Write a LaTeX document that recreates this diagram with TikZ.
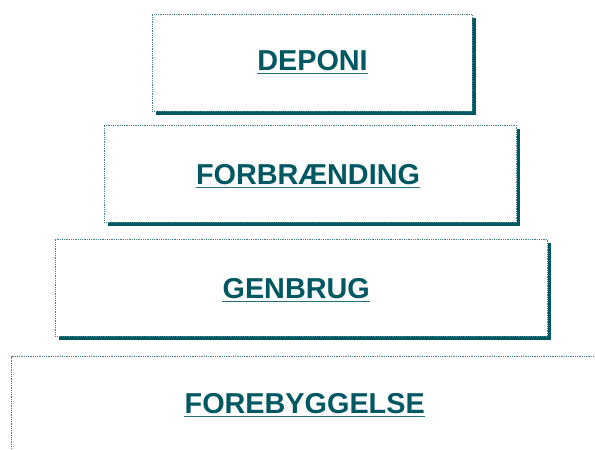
\documentclass[tikz,border=0pt]{standalone}
\usepackage{fontspec}
\newfontfamily\trinfont{Liberation Sans}
\usetikzlibrary{shadows}
\definecolor{petroldark}{RGB}{0,88,99}
\colorlet{petroldark-lighter}{petroldark!75}

\begin{document}
\begin{tikzpicture}[x=1pt, y=-1pt,
    trin/.style={draw=petroldark-lighter, densely dotted, line width=0.8pt, fill=white, inner sep=0pt,
        drop shadow={shadow xshift=3.5pt, shadow yshift=-3.5pt, fill=petroldark, opacity=1}},
    navn/.style={petroldark, inner sep=0pt, anchor=base, font=\trinfont\bfseries\fontsize{28.8}{30}\selectfont},
    streg/.style={petroldark!85, line width=1.4pt}]

    \useasboundingbox (0,0) rectangle (595,450);
    \clip (0,0) rectangle (595,450);

    % the four steps, top to bottom
    \node[trin, minimum width=320pt, minimum height=97pt] (deponi) at (312.3,62.8) {};
    \node[trin, minimum width=412.7pt, minimum height=97pt] (forbr) at (310.4,173.8) {};
    \node[trin, minimum width=492.7pt, minimum height=97pt] (genbrug) at (301.4,287.8) {};
    \node[trin, minimum width=586.3pt, minimum height=97pt] (foreb) at (304.9,405.2) {};

    \node[navn] (deponi-navn) at (312.5,70.7) {DEPONI};
    \node[navn] (forbr-navn) at (308,184.7) {FORBRÆNDING};
    \node[navn] (genbrug-navn) at (296.2,298.7) {GENBRUG};
    \node[navn] (foreb-navn) at (304.7,413.3) {FOREBYGGELSE};

    % underlines
    \draw[streg] ([yshift=-3pt]deponi-navn.base west) -- ([yshift=-3pt]deponi-navn.base east);
    \draw[streg] ([yshift=-3pt]forbr-navn.base west) -- ([yshift=-3pt]forbr-navn.base east);
    \draw[streg] ([yshift=-3pt]genbrug-navn.base west) -- ([yshift=-3pt]genbrug-navn.base east);
    \draw[streg] ([yshift=-3pt]foreb-navn.base west) -- ([yshift=-3pt]foreb-navn.base east);

\end{tikzpicture}
\end{document}
